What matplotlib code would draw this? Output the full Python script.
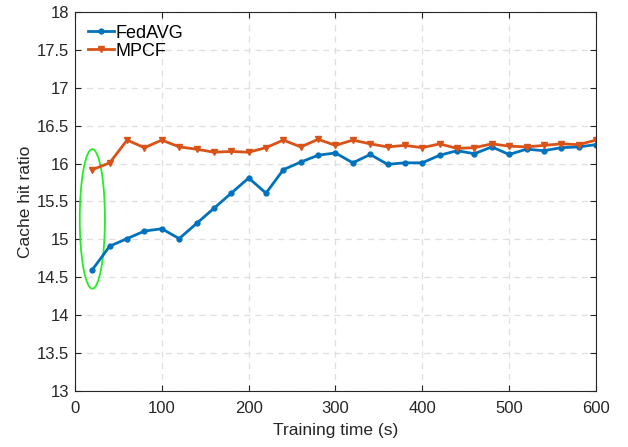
import matplotlib
matplotlib.use("Agg")
import matplotlib.pyplot as plt
from matplotlib.patches import Ellipse

# datos
tiempo = [20, 40, 60, 80, 100, 120, 140, 160, 180, 200,
          220, 240, 260, 280, 300, 320, 340, 360, 380, 400,
          420, 440, 460, 480, 500, 520, 540, 560, 580, 600]
fedavg = [14.60, 14.91, 15.01, 15.11, 15.14, 15.01, 15.21, 15.41, 15.61, 15.81,
          15.61, 15.92, 16.02, 16.11, 16.14, 16.01, 16.12, 15.99, 16.01, 16.01,
          16.11, 16.17, 16.13, 16.22, 16.12, 16.19, 16.17, 16.21, 16.22, 16.25]
mpcf = [15.92, 16.01, 16.31, 16.21, 16.31, 16.22, 16.19, 16.15, 16.16, 16.15,
        16.21, 16.31, 16.22, 16.32, 16.24, 16.31, 16.26, 16.22, 16.24, 16.21,
        16.26, 16.20, 16.21, 16.26, 16.23, 16.22, 16.24, 16.26, 16.25, 16.31]
xticks = [0, 100, 200, 300, 400, 500, 600]
yticks = [13, 13.5, 14, 14.5, 15, 15.5, 16, 16.5, 17, 17.5, 18]

plt.rcParams['font.family'] = ['Liberation Sans', 'DejaVu Sans']
plt.rcParams['font.size'] = 12

gris = '#262626'
fig = plt.figure(figsize=(6.28, 4.47), dpi=100)
ax = fig.add_axes([0.1194, 0.1253, 0.8296, 0.8479])

ax.plot(tiempo, fedavg, '-o', color='#0072BD', lw=2, ms=3.5, label='FedAVG')
ax.plot(tiempo, mpcf, '-v', color='#D95319', lw=2, ms=5, label='MPCF')

# elipse verde que marca el primer punto
ax.add_patch(Ellipse((20, 15.27), 29, 1.84, fill=False, ec='#22EE22', lw=1.3))

ax.set_xlim(0, 600)
ax.set_ylim(13, 18)
ax.set_xticks(xticks)
ax.set_yticks(yticks)
ax.set_yticklabels([f'{v:g}' for v in yticks])
ax.set_xlabel('Training time (s)', color=gris, labelpad=5, fontsize=12.5)
ax.set_ylabel('Cache hit ratio', color=gris, labelpad=3, fontsize=12.5)
ax.grid(True, ls=(0, (5, 4)), color='#DFDFDF', lw=0.9)
ax.set_axisbelow(True)
ax.tick_params(direction='in', top=True, right=True, colors=gris, length=4, width=0.8)
ax.tick_params(axis='x', pad=7)
ax.tick_params(axis='y', pad=4)
for s in ax.spines.values():
    s.set_color(gris)
    s.set_linewidth(0.8)

ax.legend(loc='upper left', frameon=False, handlelength=1.45, handletextpad=0.1,
          borderaxespad=0.3, labelspacing=0.05, fontsize=13)

fig.savefig('out.png', dpi=100)
